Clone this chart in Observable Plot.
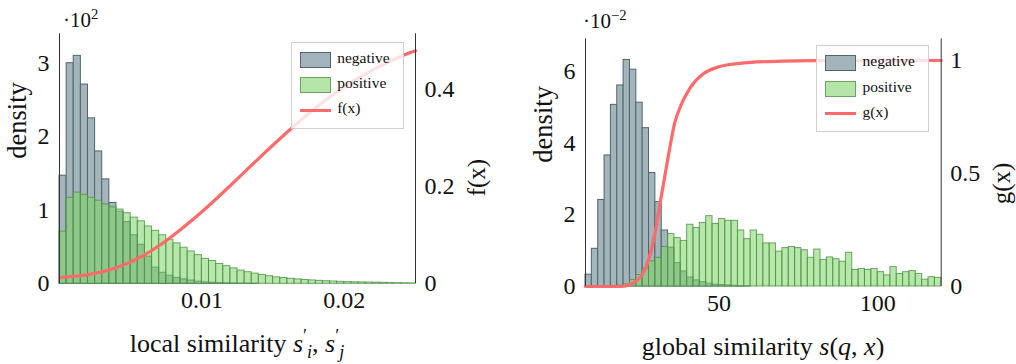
<!DOCTYPE html>
<html>
<head>
<meta charset="utf-8">
<script src="https://cdn.jsdelivr.net/npm/d3@7"></script>
<script src="https://cdn.jsdelivr.net/npm/@observablehq/plot@0.6"></script>
<style>
  html, body { margin: 0; padding: 0; background: #fff; }
  #wrap { position: relative; width: 1016px; height: 364px; font-family: "Liberation Serif", "Times New Roman", serif; color: #111; }
  .panel { position: absolute; top: 0; }
  .ov { position: absolute; white-space: nowrap; }
  .xlab { font-size: 26px; line-height: 26px; text-align: center; }
  .expo { font-size: 21px; line-height: 21px; }
  .legend { position: absolute; width: 111px; height: 85px; border: 1px solid #cfcfcf; background: rgba(255,255,255,0.8); box-sizing: content-box; }
  .legend .patch { position: absolute; left: 8px; width: 29px; height: 14px; }
  .legend .lline { position: absolute; left: 8px; width: 31px; height: 3px; }
  .legend .ltxt { position: absolute; left: 45.5px; font-size: 15.5px; line-height: 15.5px; }
  .m { font-style: italic; }
  .xlab sup, .xlab sub { font-size: 0.7em; line-height: 0; }
</style>
</head>
<body>
<div id="wrap"></div>
<script>
// ---------- data ----------
// left panel: local similarity histogram (density, units of 10^2), bins of width 0.0005 starting at 0
const localBinStart = 0;
const localBinWidth = 0.0005;
const localNeg = [1.47,3.00,3.10,2.71,2.25,1.80,1.42,1.10,0.98,0.84,
                  0.66,0.53,0.37,0.22,0.15,0.11,0.08,0.06,0.045,0.03,
                  0.02,0.015,0.01,0.007,0.005,0.003,0.002,0.001,0,0,
                  0,0,0,0,0,0,0,0,0,0,
                  0,0,0,0,0,0,0,0,0,0];
const localPos = [0.71,1.17,1.24,1.21,1.17,1.13,1.08,1.04,1.01,0.96,
                  0.90,0.85,0.78,0.72,0.66,0.60,0.55,0.49,0.44,0.39,
                  0.34,0.31,0.27,0.24,0.21,0.18,0.158,0.138,0.12,0.103,
                  0.088,0.078,0.068,0.06,0.052,0.046,0.04,0.035,0.031,0.027,
                  0.023,0.021,0.019,0.017,0.015,0.013,0.011,0.009,0.008,0.006];
const fX = [0,0.002,0.004,0.006,0.008,0.010,0.012,0.014,0.016,0.018,0.020,0.022,0.024,0.025];
const fY = [0.013,0.019,0.033,0.060,0.100,0.148,0.202,0.258,0.312,0.362,0.405,0.440,0.468,0.479];
const localXDomain = [0, 0.025];
const localYDomain = [0, 3.40];
const fDomainTop = 0.514;
const localXTicks = [0.01, 0.02];
const localYTicks = [0, 1, 2, 3];
const fTicks = [0, 0.2, 0.4];

// right panel: global similarity histogram (density, units of 10^-2), bins of width 2 starting at 8
const globalBinStart = 8;
const globalBinWidth = 2;
const globalNeg = [0.33,1.05,2.41,3.65,5.06,5.60,6.31,6.04,5.12,4.41,
                   3.16,2.35,1.56,1.08,0.65,0.42,0.25,0.17,0.12,0.08,
                   0.05,0.04,0.03,0.02,0.01,0.01,0,0,0,0,
                   0,0,0,0,0,0,0,0,0,0,
                   0,0,0,0,0,0,0,0,0,0,
                   0,0,0,0,0,0];
const globalPos = [0,0,0,0,0,0.02,0.06,0.18,0.32,0.50,
                   0.70,0.80,1.10,1.46,1.35,1.27,1.72,1.63,1.77,1.96,
                   1.74,1.88,1.83,1.83,1.56,1.32,1.56,1.44,1.20,1.20,
                   0.97,1.07,1.10,1.07,1.01,0.80,1.03,0.74,0.81,0.76,
                   0.69,0.94,0.46,0.49,0.46,0.49,0.40,0.31,0.54,0.35,
                   0.40,0.43,0.35,0.19,0.26,0.24];
const gX = [8,18,21,24,26,28,30,31.5,33,34.5,36,38,41,45,50,55,60,70,80,100,120];
const gY = [0,0,0.004,0.025,0.055,0.125,0.245,0.37,0.49,0.61,0.72,0.80,0.88,0.94,0.972,0.985,0.992,0.997,0.999,1.0,1.0];
const globalXDomain = [8, 120];
const globalYDomain = [0, 6.9];
const gDomainTop = 1.096;
const globalXTicks = [50, 100];
const globalYTicks = [0, 2, 4, 6];
const gTicks = [0, 0.5, 1];

// ---------- styles ----------
const negFill = "#a3b5bb", negStroke = "#4e656d";
const posFill = "#7fd468", posStroke = "#4f9146";
const lineColor = "#ff6b6b";
const FONT = '"Liberation Serif", "Times New Roman", serif';

function rows(vals, start, w) {
  return vals.map((v, i) => ({x1: start + i * w, x2: start + (i + 1) * w, y: v}));
}
function fmt(v) { const r = Math.round(v * 100) / 100; return r === 0 ? "0" : String(r); }

function panel({width, mt, mb, ml, mr, xDomain, yDomain, neg, pos, binStart, binW, lx, ly, lineTop, xTicks, yTicks, rTicks, rLabel}) {
  const k = yDomain[1] / lineTop;
  const lineRows = lx.map((x, i) => ({x, y: ly[i] * k}));
  return Plot.plot({
    width, height: 364,
    marginTop: mt, marginBottom: mb, marginLeft: ml, marginRight: mr,
    x: {domain: xDomain, label: null},
    y: {domain: yDomain, label: null},
    style: {background: "transparent", fontFamily: FONT, fontSize: "24px", color: "#111", overflow: "visible"},
    marks: [
      Plot.rectY(rows(neg, binStart, binW), {x1: "x1", x2: "x2", y: "y", fill: negFill, stroke: negStroke, strokeWidth: 1}),
      Plot.rectY(rows(pos, binStart, binW), {x1: "x1", x2: "x2", y: "y", fill: posFill, fillOpacity: 0.56, stroke: posStroke, strokeOpacity: 0.8, strokeWidth: 1}),
      Plot.line(lineRows, {x: "x", y: "y", stroke: lineColor, strokeWidth: 3.2, curve: "monotone-x"}),
      Plot.ruleX(xDomain, {stroke: "#333", strokeWidth: 1}),
      Plot.axisX({ticks: xTicks, tickSize: 0, tickPadding: 7, tickFormat: d => String(d), label: null, fontSize: 24, fontFamily: FONT}),
      Plot.axisY({ticks: yTicks, tickSize: 0, tickPadding: 10, tickFormat: d => String(d), label: null, fontSize: 24, fontFamily: FONT}),
      Plot.axisY({anchor: "right", ticks: rTicks.map(v => v * k), tickSize: 0, tickPadding: 9, tickFormat: d => fmt(d / k), label: null, fontSize: 24, fontFamily: FONT}),
      Plot.text(["density"], {text: d => d, frameAnchor: "left", rotate: -90, dx: -42, fontSize: 26.5, fontFamily: FONT}),
      Plot.text([rLabel], {text: d => d, frameAnchor: "right", rotate: -90, dx: 61, fontSize: 25, fontFamily: FONT})
    ]
  });
}

const wrap = document.getElementById("wrap");

const left = panel({
  width: 508, mt: 33.3, mb: 364 - 283.3, ml: 59, mr: 508 - 415,
  xDomain: localXDomain, yDomain: localYDomain, neg: localNeg, pos: localPos,
  binStart: localBinStart, binW: localBinWidth, lx: fX, ly: fY, lineTop: fDomainTop,
  xTicks: localXTicks, yTicks: localYTicks, rTicks: fTicks, rLabel: "f(x)"
});
left.classList.add("panel"); left.style.left = "0px";
wrap.appendChild(left);

const right = panel({
  width: 508, mt: 38.3, mb: 364 - 286, ml: 585 - 508, mr: 1016 - 940.7,
  xDomain: globalXDomain, yDomain: globalYDomain, neg: globalNeg, pos: globalPos,
  binStart: globalBinStart, binW: globalBinWidth, lx: gX, ly: gY, lineTop: gDomainTop,
  xTicks: globalXTicks, yTicks: globalYTicks, rTicks: gTicks, rLabel: "g(x)"
});
right.classList.add("panel"); right.style.left = "508px";
wrap.appendChild(right);

// ---------- html overlays (math labels, exponent, legends) ----------
function addHTML(html, cls, styles) {
  const d = document.createElement("div");
  d.className = "ov " + cls;
  d.innerHTML = html;
  Object.assign(d.style, styles);
  wrap.appendChild(d);
  return d;
}
const primeSub = s => `<span class="m">s</span><sup>′</sup><sub class="m">${s}</sub>`;
addHTML(`local similarity ${primeSub("i")}, ${primeSub("j")}`, "xlab", {left: "59px", width: "356px", top: "331px"});
addHTML(`global similarity <span class="m">s</span>(<span class="m">q</span>, <span class="m">x</span>)`, "xlab", {left: "585px", width: "356px", top: "334px"});
addHTML(`·10<sup style="font-size:0.7em;vertical-align:0.55em;line-height:0;">2</sup>`, "expo", {left: "63px", top: "10px"});
addHTML(`·10<sup style="font-size:0.7em;vertical-align:0.55em;line-height:0;">−2</sup>`, "expo", {left: "583px", top: "11px"});

function legend(x, y, lineLabel) {
  const L = document.createElement("div");
  L.className = "legend";
  L.style.left = x + "px"; L.style.top = y + "px";
  L.innerHTML = `
    <div class="patch" style="top:9px;background:${negFill};border:1px solid ${negStroke};"></div>
    <div class="ltxt" style="top:7px;">negative</div>
    <div class="patch" style="top:34.5px;background:#b6e6a7;border:1px solid #6aa262;"></div>
    <div class="ltxt" style="top:32.7px;">positive</div>
    <div class="lline" style="top:66px;background:${lineColor};"></div>
    <div class="ltxt" style="top:57.7px;">${lineLabel}</div>`;
  wrap.appendChild(L);
}
legend(290.7, 41.7, "f(x)");
legend(816, 45, "g(x)");
</script>
</body>
</html>
